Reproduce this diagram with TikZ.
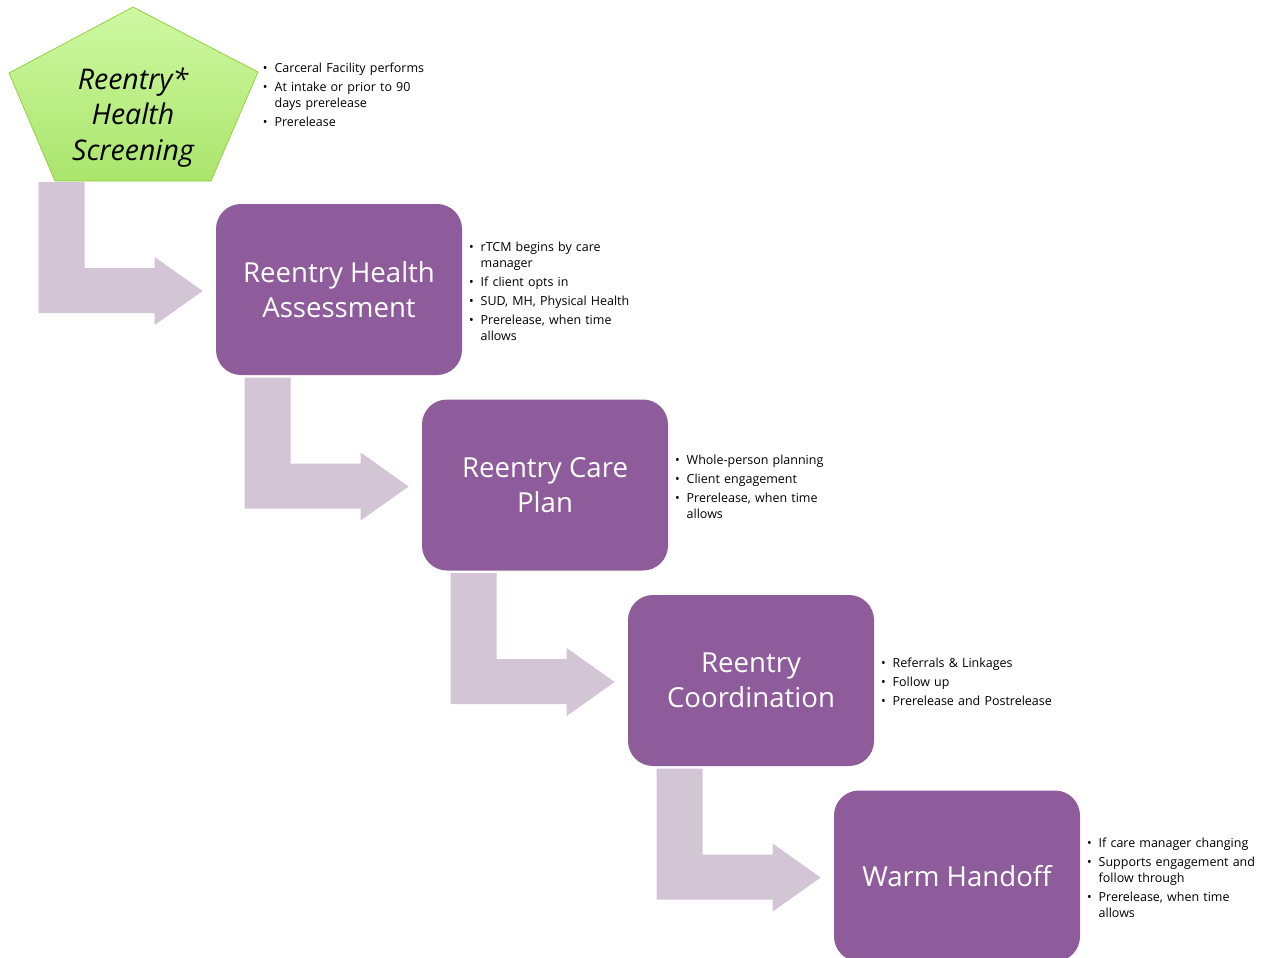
\documentclass[tikz,border=0pt]{standalone}
\usepackage{fontspec}
\setmainfont{Open Sans}
\usetikzlibrary{positioning,calc}

\definecolor{stepfill}{RGB}{143,92,155}
\definecolor{arrowfill}{RGB}{211,196,214}
\definecolor{screentop}{RGB}{207,248,162}
\definecolor{screenbottom}{RGB}{170,229,108}
\definecolor{screenline}{RGB}{140,205,50}

\newenvironment{notelist}{\begin{list}{\textbullet}{\setlength{\leftmargin}{0.26cm}\setlength{\labelwidth}{0.12cm}\setlength{\labelsep}{0.14cm}\setlength{\itemsep}{1.7pt}\setlength{\parsep}{0pt}\setlength{\topsep}{0pt}\setlength{\partopsep}{0pt}}}{\end{list}}

\begin{document}
\begin{tikzpicture}[stepbox/.style={rectangle, rounded corners=0.5cm, fill=stepfill, text=white, minimum width=4.92cm, minimum height=3.42cm, inner sep=0pt, align=center, font=\fontsize{15.7}{20}\selectfont},
notes/.style={inner sep=0pt, text width=4.2cm, align=left, yshift=0.035cm, font=\fontsize{7.1}{9.1}\selectfont},
bentarrow/.pic={\fill[arrowfill] (-3.28, 2.18) -- (-2.36, 2.18) -- (-2.36, 0.46) -- (-0.96, 0.46) -- (-0.96, 0.68) -- (0, 0) -- (-0.96, -0.68) -- (-0.96, -0.44) -- (-3.28, -0.44) -- cycle;}]

\useasboundingbox (0, 0) rectangle (25.38, -19.14);

% Screening
\shade[top color=screentop, bottom color=screenbottom, draw=screenline, thin] (2.66, -0.14) -- (5.16, -1.44) -- (4.22, -3.62) -- (1.1, -3.62) -- (0.18, -1.46) -- cycle;
\node[align=center, font=\fontsize{16.2}{20}\selectfont\itshape] (screen) at (2.66, -2.35) {Reentry*\\Health\\Screening};
\node[notes, anchor=west] (screennotes) at (5.225, -1.87) {\begin{notelist}
\item Carceral Facility performs
\item At intake or prior to 90\\days prerelease
\item Prerelease
\end{notelist}};

% Steps
\node[stepbox] (assess) at (6.78, -5.79) {Reentry Health\\Assessment};
\node[stepbox] (plan) at ($(assess)+(4.12, -3.91)$) {Reentry Care\\Plan};
\node[stepbox] (coord) at ($(plan)+(4.12, -3.91)$) {Reentry\\Coordination};
\node[stepbox] (handoff) at ($(coord)+(4.12, -3.91)$) {Warm Handoff};

% Bent arrows
\pic at ($(assess.west)+(-0.26, -0.03)$) {bentarrow};
\pic at ($(plan.west)+(-0.26, -0.03)$) {bentarrow};
\pic at ($(coord.west)+(-0.26, -0.03)$) {bentarrow};
\pic at ($(handoff.west)+(-0.26, -0.03)$) {bentarrow};

% Notes
\node[notes, right=0.1cm of assess] (assessnotes) {\begin{notelist}
\item rTCM begins by care\\manager
\item If client opts in
\item SUD, MH, Physical Health
\item Prerelease, when time\\allows
\end{notelist}};
\node[notes, right=0.1cm of plan] (plannotes) {\begin{notelist}
\item Whole-person planning
\item Client engagement
\item Prerelease, when time\\allows
\end{notelist}};
\node[notes, right=0.1cm of coord] (coordnotes) {\begin{notelist}
\item Referrals \& Linkages
\item Follow up
\item Prerelease and Postrelease
\end{notelist}};
\node[notes, right=0.1cm of handoff] (handoffnotes) {\begin{notelist}
\item If care manager changing
\item Supports engagement and\\follow through
\item Prerelease, when time\\allows
\end{notelist}};
\end{tikzpicture}
\end{document}
